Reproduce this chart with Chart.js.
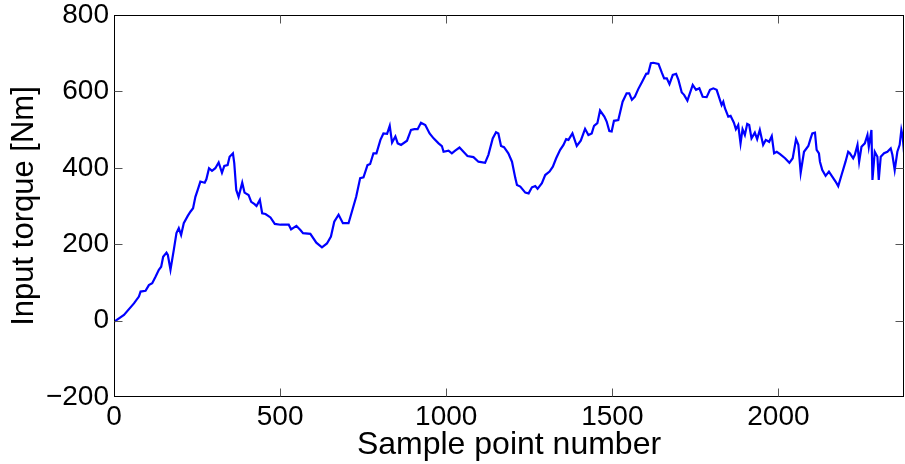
<!DOCTYPE html>
<html><head><meta charset="utf-8">
<script src="https://cdn.jsdelivr.net/npm/chart.js@4"></script>
<style>html,body{margin:0;padding:0;background:#fff;overflow:hidden}canvas{display:block}</style>
</head><body>
<canvas id="c" width="905" height="464"></canvas>
<script>
const sampleIdx = [0,30,60,75,80,95,105,115,125,135,142,148,158,162,170,180,188,195,202,210,222,230,238,245,252,260,273,278,286,295,305,315,325,332,342,348,358,362,368,375,386,393,405,413,423,429,439,446,456,471,484,501,526,533,549,561,569,591,609,626,641,653,663,676,689,706,716,729,741,751,763,771,781,790,802,811,822,830,837,847,854,864,882,894,904,914,924,937,950,962,977,987,992,1007,1017,1027,1040,1052,1064,1082,1097,1117,1127,1140,1150,1157,1165,1174,1187,1198,1208,1213,1223,1238,1248,1258,1268,1275,1288,1298,1311,1321,1331,1343,1353,1361,1368,1380,1393,1405,1418,1428,1438,1445,1455,1463,1476,1483,1491,1498,1505,1518,1531,1543,1551,1559,1568,1578,1589,1602,1608,1616,1623,1639,1649,1656,1664,1672,1682,1692,1699,1709,1716,1726,1742,1752,1762,1772,1784,1794,1804,1814,1819,1829,1834,1839,1849,1856,1866,1872,1879,1886,1892,1899,1906,1912,1919,1929,1936,1944,1954,1962,1972,1980,1987,1995,2005,2020,2033,2043,2053,2060,2067,2077,2090,2097,2102,2110,2115,2122,2125,2132,2142,2152,2162,2172,2180,2190,2202,2210,2215,2225,2230,2238,2243,2250,2260,2268,2272,2280,2283,2290,2298,2302,2308,2318,2328,2338,2343,2350,2358,2365,2370,2374,2378];
const torque = [-3,15,45,63,76,78,93,98,115,133,141,167,178,172,133,185,229,242,224,255,274,285,294,324,342,364,361,370,399,392,399,414,387,405,407,429,438,412,342,324,361,335,329,311,305,300,316,281,279,270,253,251,251,239,248,237,229,227,204,192,202,220,259,277,255,255,285,324,373,375,407,410,438,438,473,490,489,510,466,482,464,460,471,499,501,501,518,512,490,477,464,457,442,445,438,445,453,442,431,428,416,413,434,477,493,490,457,454,438,416,373,355,351,335,333,349,352,345,360,381,390,403,425,447,460,475,473,490,457,471,502,486,490,510,517,550,534,521,496,495,523,525,573,595,595,578,586,606,624,646,647,674,675,672,649,634,634,619,643,646,630,597,591,576,617,604,608,586,585,604,608,604,591,564,573,556,534,536,518,501,512,464,501,486,515,512,477,492,475,499,460,473,468,483,438,442,436,425,413,425,475,460,387,442,457,477,490,492,447,438,416,394,379,390,377,364,352,381,416,442,438,425,434,460,416,455,464,486,455,499,368,442,429,368,429,438,442,451,434,394,442,460,499,482,440];
const xTicks = [0,500,1000,1500,2000];
const yTicks = [-200,0,200,400,600,800];
const xLabel = 'Sample point number';
const yLabel = 'Input torque [Nm]';

const FONT = "'Liberation Sans', Arial, Helvetica, sans-serif";

const boxPlugin = {
  id: 'box',
  afterDraw(chart) {
    const {ctx, chartArea: a, scales: {x, y}} = chart;
    const L = Math.round(a.left) + 0.5, R = Math.round(a.right) - 0.5;
    const T = Math.round(a.top) + 0.5, B = Math.round(a.bottom) - 0.5;
    ctx.save();
    ctx.strokeStyle = '#000';
    ctx.lineWidth = 1;
    ctx.strokeRect(L, T, R - L, B - T);
    ctx.strokeStyle = '#555';
    const tl = 8;
    ctx.beginPath();
    xTicks.forEach(v => {
      const px = Math.round(x.getPixelForValue(v)) + 0.5;
      if (px <= L + 1 || px >= R - 1) return;
      ctx.moveTo(px, B); ctx.lineTo(px, B - tl);
      ctx.moveTo(px, T); ctx.lineTo(px, T + tl);
    });
    yTicks.forEach(v => {
      const py = Math.round(y.getPixelForValue(v)) + 0.5;
      if (py <= T + 1 || py >= B - 1) return;
      ctx.moveTo(L, py); ctx.lineTo(L + tl, py);
      ctx.moveTo(R, py); ctx.lineTo(R - tl, py);
    });
    ctx.stroke();
    ctx.restore();
  }
};

const zeroPad = s => { s.paddingTop = 0; s.paddingBottom = 0; s.paddingLeft = 0; s.paddingRight = 0; };

new Chart(document.getElementById('c'), {
  type: 'line',
  data: {
    datasets: [{
      data: sampleIdx.map((v, i) => ({x: v, y: torque[i]})),
      borderColor: '#0000ff',
      borderWidth: 2.2,
      pointRadius: 0,
      tension: 0,
      fill: false
    }]
  },
  options: {
    responsive: false,
    animation: false,
    events: [],
    layout: {padding: {top: 15, right: 1, left: 0, bottom: 0}},
    plugins: {legend: {display: false}, tooltip: {enabled: false}},
    scales: {
      x: {
        type: 'linear', min: 0, max: 2378,
        afterBuildTicks: s => { s.ticks = xTicks.map(v => ({value: v})); },
        afterFit: s => { s.height = 67; zeroPad(s); },
        grid: {display: false, drawTicks: false},
        border: {display: false},
        ticks: {color: '#000', font: {family: FONT, size: 28}, padding: 3, maxRotation: 0, autoSkip: false,
          callback: v => String(v)},
        title: {display: true, text: xLabel, color: '#000', font: {family: FONT, size: 32}, padding: 0}
      },
      y: {
        type: 'linear', min: -200, max: 800,
        afterBuildTicks: s => { s.ticks = yTicks.map(v => ({value: v})); },
        afterFit: s => { s.width = 114; zeroPad(s); },
        grid: {display: false, drawTicks: false},
        border: {display: false},
        ticks: {color: '#000', font: {family: FONT, size: 28}, padding: 5, autoSkip: false,
          callback: v => String(v).replace('-', '\u2212')},
        title: {display: true, text: yLabel, color: '#000', font: {family: FONT, size: 31}, padding: {top: 6, bottom: 0}}
      }
    }
  },
  plugins: [boxPlugin]
});
</script>
</body></html>
